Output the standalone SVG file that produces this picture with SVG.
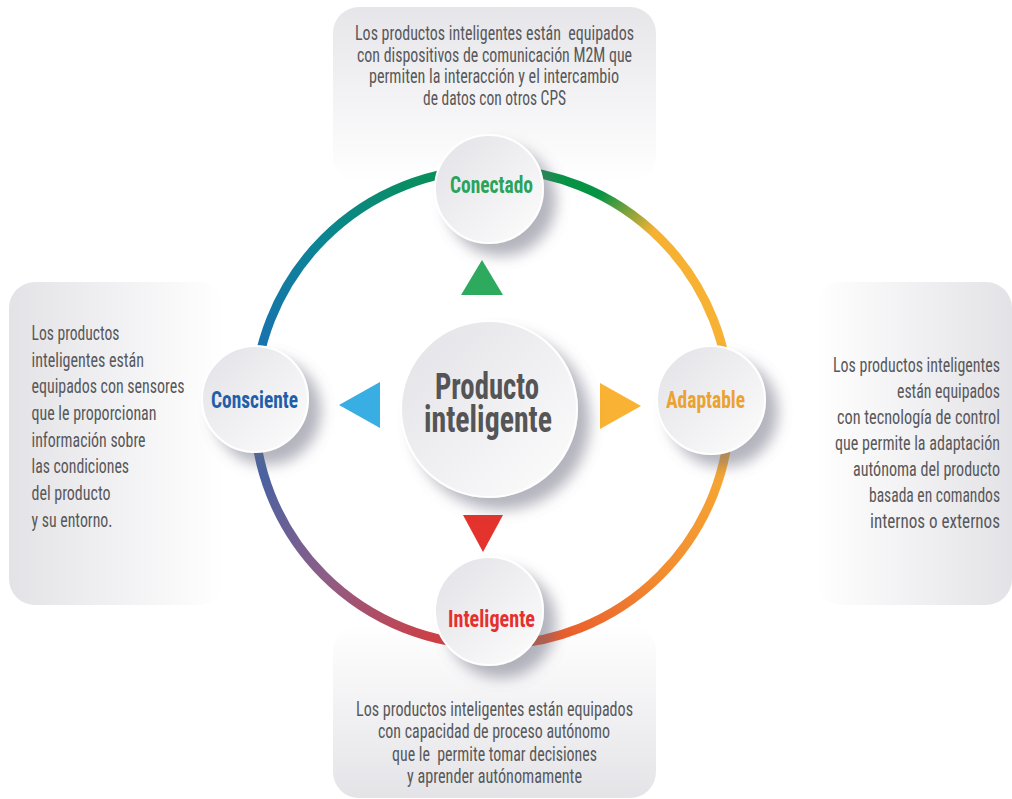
<svg xmlns="http://www.w3.org/2000/svg" width="1012" height="799" viewBox="0 0 1012 799">
<style>
.body{font-family:"Roboto Condensed","Liberation Sans Narrow",Roboto,"Liberation Sans",sans-serif;font-size:19.5px;fill:#58585b;white-space:pre}
.lbl{font-family:"Roboto Condensed","Liberation Sans Narrow",Roboto,"Liberation Sans",sans-serif;font-weight:bold;font-size:23px;text-anchor:middle}
.ctr{font-family:"Roboto Condensed","Liberation Sans Narrow",Roboto,"Liberation Sans",sans-serif;font-weight:bold;font-size:36px;text-anchor:middle;fill:#555557}
.mid{text-anchor:middle}
.end{text-anchor:end}
.node{fill:url(#cfill);stroke:#ffffff;stroke-width:2;filter:url(#shadow)}
.ring{fill:none;stroke-width:9}
</style>
<defs>
<filter id="shadow" x="-40%" y="-40%" width="190%" height="190%">
<feGaussianBlur in="SourceAlpha" stdDeviation="7"/>
<feOffset dx="12" dy="12" result="b"/>
<feFlood flood-color="#6a6a7e" flood-opacity="0.5"/>
<feComposite in2="b" operator="in"/>
<feMerge><feMergeNode/><feMergeNode in="SourceGraphic"/></feMerge>
</filter>
<linearGradient id="cfill" x1="0" y1="0" x2="1" y2="1">
<stop offset="0" stop-color="#e2e2e7"/>
<stop offset="1" stop-color="#fdfdfd"/>
</linearGradient>
<linearGradient id="pTop" x1="0" y1="0" x2="0" y2="1">
<stop offset="0" stop-color="#e6e6ea"/>
<stop offset="1" stop-color="#ffffff"/>
</linearGradient>
<linearGradient id="pBot" x1="0" y1="0" x2="0" y2="1">
<stop offset="0" stop-color="#ffffff"/>
<stop offset="1" stop-color="#e4e4e8"/>
</linearGradient>
<linearGradient id="pLeft" x1="0" y1="0" x2="1" y2="0">
<stop offset="0" stop-color="#e3e3e7"/>
<stop offset="1" stop-color="#ffffff"/>
</linearGradient>
<linearGradient id="pRight" x1="0" y1="0" x2="1" y2="0">
<stop offset="0" stop-color="#ffffff"/>
<stop offset="1" stop-color="#e3e3e7"/>
</linearGradient>
<linearGradient id="gTL" gradientUnits="userSpaceOnUse" x1="254" y1="407" x2="492" y2="169">
<stop offset="0" stop-color="#1e6bbb"/>
<stop offset="0.5" stop-color="#0c8592"/>
<stop offset="1" stop-color="#079344"/>
</linearGradient>
<linearGradient id="gTR" gradientUnits="userSpaceOnUse" x1="492" y1="169" x2="730" y2="407">
<stop offset="0" stop-color="#079344"/>
<stop offset="0.28" stop-color="#079344"/>
<stop offset="0.47" stop-color="#f6b133"/>
<stop offset="1" stop-color="#f8b133"/>
</linearGradient>
<linearGradient id="gBR" gradientUnits="userSpaceOnUse" x1="730" y1="407" x2="492" y2="645">
<stop offset="0" stop-color="#f8b133"/>
<stop offset="0.5" stop-color="#f28c30"/>
<stop offset="1" stop-color="#e6452b"/>
</linearGradient>
<linearGradient id="gBL" gradientUnits="userSpaceOnUse" x1="254" y1="407" x2="492" y2="645">
<stop offset="0" stop-color="#2a63ad"/>
<stop offset="0.5" stop-color="#8c5e88"/>
<stop offset="1" stop-color="#e4342e"/>
</linearGradient>
</defs>
<rect width="1012" height="799" fill="#ffffff"/>

<g id="panel-top">
<rect x="333" y="7" width="323" height="175" rx="26" fill="url(#pTop)"/>
<text class="body mid" x="494.5" y="40" textLength="279" lengthAdjust="spacingAndGlyphs">Los productos inteligentes están  equipados</text>
<text class="body mid" x="494.5" y="61.5" textLength="275" lengthAdjust="spacingAndGlyphs">con dispositivos de comunicación M2M que</text>
<text class="body mid" x="494" y="83" textLength="250" lengthAdjust="spacingAndGlyphs">permiten la interacción y el intercambio</text>
<text class="body mid" x="494.5" y="104.5" textLength="143" lengthAdjust="spacingAndGlyphs">de datos con otros CPS</text>
</g>

<g id="panel-left">
<rect x="9" y="282" width="215" height="323" rx="26" fill="url(#pLeft)"/>
<text class="body" x="31.5" y="340" textLength="88" lengthAdjust="spacingAndGlyphs">Los productos</text>
<text class="body" x="31.5" y="366.7" textLength="112.5" lengthAdjust="spacingAndGlyphs">inteligentes están</text>
<text class="body" x="31.5" y="393.3" textLength="153" lengthAdjust="spacingAndGlyphs">equipados con sensores</text>
<text class="body" x="31.5" y="420" textLength="125" lengthAdjust="spacingAndGlyphs">que le proporcionan</text>
<text class="body" x="31.5" y="446.7" textLength="114" lengthAdjust="spacingAndGlyphs">información sobre</text>
<text class="body" x="31.5" y="473.3" textLength="97.5" lengthAdjust="spacingAndGlyphs">las condiciones</text>
<text class="body" x="31.5" y="500" textLength="79" lengthAdjust="spacingAndGlyphs">del producto</text>
<text class="body" x="31.5" y="526.7" textLength="81" lengthAdjust="spacingAndGlyphs">y su entorno.</text>
</g>

<g id="panel-right">
<rect x="815" y="282" width="197" height="323" rx="26" fill="url(#pRight)"/>
<text class="body" x="833" y="372" textLength="167" lengthAdjust="spacingAndGlyphs">Los productos inteligentes</text>
<text class="body" x="897" y="398" textLength="103" lengthAdjust="spacingAndGlyphs">están equipados</text>
<text class="body" x="837" y="424" textLength="163" lengthAdjust="spacingAndGlyphs">con tecnología de control</text>
<text class="body" x="835" y="449.5" textLength="165" lengthAdjust="spacingAndGlyphs">que permite la adaptación</text>
<text class="body" x="853" y="475.5" textLength="147" lengthAdjust="spacingAndGlyphs">autónoma del producto</text>
<text class="body" x="869" y="501.5" textLength="131" lengthAdjust="spacingAndGlyphs">basada en comandos</text>
<text class="body" x="870" y="527.5" textLength="130" lengthAdjust="spacingAndGlyphs">internos o externos</text>
</g>

<g id="panel-bottom">
<rect x="333" y="625" width="323" height="173" rx="26" fill="url(#pBot)"/>
<text class="body mid" x="494.5" y="716" textLength="277" lengthAdjust="spacingAndGlyphs">Los productos inteligentes están equipados</text>
<text class="body mid" x="494" y="738.3" textLength="232" lengthAdjust="spacingAndGlyphs">con capacidad de proceso autónomo</text>
<text class="body mid" x="494.5" y="760.6" textLength="205" lengthAdjust="spacingAndGlyphs">que le  permite tomar decisiones</text>
<text class="body mid" x="494.5" y="782.9" textLength="175" lengthAdjust="spacingAndGlyphs">y aprender autónomamente</text>
</g>

<g id="connectors">
<path class="ring" stroke="url(#gTL)" d="M254,407 A238,238 0 0 1 492,169"/>
<path class="ring" stroke="url(#gTR)" d="M492,169 A238,238 0 0 1 730,407"/>
<path class="ring" stroke="url(#gBR)" d="M730,407 A238,238 0 0 1 492,645"/>
<path class="ring" stroke="url(#gBL)" d="M492,645 A238,238 0 0 1 254,407"/>
<polygon points="482,260 503,295 461,295" fill="#2eaa5f"/>
<polygon points="339,405 380,382 380,428" fill="#38aee2"/>
<polygon points="641,406 600,383 600,429" fill="#f9b233"/>
<polygon points="483,552 463,515 503,515" fill="#e4322c"/>
</g>

<g id="node-center">
<circle class="node" cx="489" cy="409" r="88"/>
<text class="ctr" x="487" y="399" textLength="104" lengthAdjust="spacingAndGlyphs">Producto</text>
<text class="ctr" x="488" y="432" textLength="128" lengthAdjust="spacingAndGlyphs">inteligente</text>
</g>

<g id="node-conectado">
<circle class="node" cx="489" cy="189" r="54"/>
<text class="lbl" x="491.5" y="193" fill="#2aa35b" textLength="83" lengthAdjust="spacingAndGlyphs">Conectado</text>
</g>

<g id="node-consciente">
<circle class="node" cx="255" cy="399" r="53"/>
<text class="lbl" x="254.5" y="408" fill="#1f5fa9" textLength="87" lengthAdjust="spacingAndGlyphs">Consciente</text>
</g>

<g id="node-adaptable">
<circle class="node" cx="711" cy="400" r="54"/>
<text class="lbl" x="705.5" y="408" fill="#eaa232" textLength="79" lengthAdjust="spacingAndGlyphs">Adaptable</text>
</g>

<g id="node-inteligente">
<circle class="node" cx="489" cy="611" r="54"/>
<text class="lbl" x="491.5" y="627" fill="#e5312d" textLength="87" lengthAdjust="spacingAndGlyphs">Inteligente</text>
</g>
</svg>
